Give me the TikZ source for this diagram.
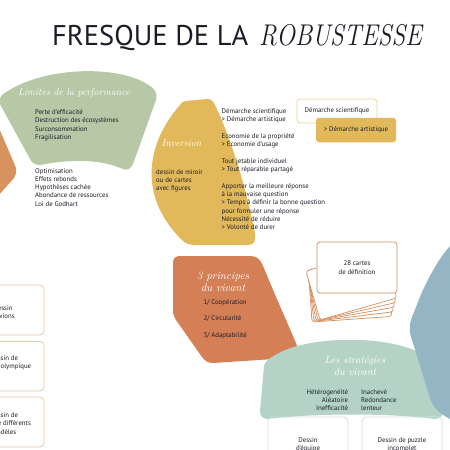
\documentclass[tikz,border=0pt]{standalone}
\usepackage{fontspec}
\setmainfont{PT Sans}
\newfontfamily\hfont{Latin Modern Roman}
\usetikzlibrary{calc}
\definecolor{sage}{HTML}{B6C8A6}
\definecolor{mustard}{HTML}{E2B95A}
\definecolor{terra}{HTML}{D47F56}
\definecolor{apricot}{HTML}{D7925E}
\definecolor{mint}{HTML}{B4D3C6}
\definecolor{steel}{HTML}{93B5C4}
\definecolor{ink}{HTML}{1C1C28}
\definecolor{cardc}{HTML}{D58E5C}
\definecolor{tanline}{HTML}{EBC9A9}
\definecolor{mintline}{HTML}{D2E2DA}
\definecolor{paleyel}{HTML}{ECD49A}
\begin{document}
\begin{tikzpicture}[x=1pt,y=-1pt,
  txt/.style={font=\fontsize{6.8}{8.3}\selectfont, text=ink, inner sep=0pt, align=left},
  head/.style={font=\hfont\itshape\fontsize{9.8}{11.5}\selectfont, text=white, inner sep=0pt, align=center},
  cardbox/.style={draw=cardc, fill=white, line width=0.7pt, rounded corners=3pt},
  sidebox/.style={draw=tanline, line width=0.8pt, rounded corners=4pt},
  botbox/.style={draw=mintline, line width=0.8pt, rounded corners=4pt}]
\useasboundingbox (0,0) rectangle (450,450);
\clip (0,0) rectangle (450,450);
\fill[white] (0,0) rectangle (450,450);

% title
\node[anchor=base west, inner sep=0pt, text=ink, font=\fontsize{28.5}{30}\selectfont] (t1) at (52,45) {FRESQUE DE LA};
\node[anchor=base west, inner sep=0pt, text=ink, font=\hfont\itshape\fontsize{30}{30}\selectfont] (t2) at (259,45) {\scalebox{0.83}[1]{ROBUSTESSE}};

% left orange
\fill[apricot] (-2,126) -- (14,163) .. controls (17,169) and (17,173) .. (14,178) -- (-2,196) -- cycle;

% green limites
\fill[sage] (150,86) .. controls (120,64) and (40,66) .. (2,95)
  .. controls (-1,98) and (-1,103) .. (1,106)
  -- (29,157)
  .. controls (31,162) and (34,165) .. (40,165)
  .. controls (70,159) and (100,159) .. (123,169)
  .. controls (128,171) and (131,168) .. (133,164)
  -- (156,100)
  .. controls (158,94) and (155,89) .. (150,86) -- cycle;

% yellow inversion
\fill[mustard] (186,101) -- (207,99)
 .. controls (211,99) and (213,101) .. (215,105)
 .. controls (232,140) and (248,195) .. (255,234)
 .. controls (256,241) and (254,245) .. (248,245)
 -- (195,245)
 .. controls (188,245) and (184,243) .. (178,236)
 .. controls (140,195) and (145,145) .. (180,105)
 .. controls (182,102) and (184,101) .. (186,101) -- cycle;

% orange 3 principes
\fill[terra] (180,256) -- (250,256)
 .. controls (257,256) and (260,259) .. (263,266)
 .. controls (275,295) and (287,322) .. (296,343)
 .. controls (299,351) and (296,357) .. (289,358)
 -- (213,363)
 .. controls (208,363) and (205,361) .. (202,357)
 -- (176,320)
 .. controls (174,317) and (173,314) .. (173,310)
 -- (173,263)
 .. controls (173,258) and (176,256) .. (180,256) -- cycle;

% strategies
\fill[mint] (272,357) .. controls (305,334) and (395,334) .. (427,357)
 .. controls (431,360) and (433,363) .. (434,367)
 -- (443,408)
 .. controls (444,415) and (441,419) .. (435,419)
 .. controls (390,413) and (315,413) .. (268,419)
 .. controls (263,419) and (260,416) .. (260,411)
 -- (264,366)
 .. controls (265,362) and (268,359) .. (272,357) -- cycle;

% blue
\fill[steel] (452,244) .. controls (440,256) and (430,275) .. (422,292)
 -- (412,317)
 .. controls (409,324) and (409,332) .. (412,340)
 -- (430,398)
 .. controls (433,408) and (440,414) .. (452,420) -- cycle;

% headings
\node[head] (h1) at (74,93) {Limites de la performance};
\node[head] (h2) at (181.5,143) {Inversion};
\node[head, font=\hfont\itshape\fontsize{11}{11.5}\selectfont] (h3) at (223,282) {3 principes\\du vivant};
\node[head, font=\hfont\itshape\fontsize{10.5}{11.5}\selectfont] (h4) at (355,366) {Les stratégies\\du vivant};

% texts
\node[txt, anchor=north west] (l1) at (35,109.5) {Perte d'efficacité\\Destruction des écosystèmes\\Surconsommation\\Fragilisation};
\node[txt, anchor=north west] (l2) at (35,168) {Optimisation\\Effets rebonds\\Hypothèses cachée\\Abondance de ressources\\Loi de Godhart};
\node[txt, anchor=north west, font=\fontsize{6.8}{7.8}\selectfont] (l3) at (156,169.5) {dessin de miroir\\ou de cartes\\avec figures};
\node[txt, anchor=north west] (l4) at (221.5,108.5) {Démarche scientifique\\> Démarche artistique\\[8.3pt]Economie de la propriété\\> Economie d'usage\\[8.3pt]Tout jetable individuel\\> Tout réparable partagé\\[8.3pt]Apporter la meilleure réponse\\à la mauvaise question\\> Temps à définir la bonne question\\pour formuler une réponse\\Nécessité de réduire\\> Volonté de durer};

% demarche boxes
\node[draw=paleyel, fill=white, line width=0.8pt, rounded corners=3pt, minimum width=80pt, minimum height=24pt, font=\fontsize{6.8}{8}\selectfont, text=ink] (b1) at (337,111) {Démarche scientifique};
\node[fill=mustard, rounded corners=3pt, minimum width=80pt, minimum height=24.5pt, font=\fontsize{6.8}{8}\selectfont, text=ink] (b2) at (356,130) {> Démarche artistique};

% principes
\node[txt, anchor=west] (p1) at (203.3,302.3) {1/ Coopération};
\node[txt, anchor=west] (p2) at (203.3,319) {2/ Circularité};
\node[txt, anchor=west] (p3) at (203.3,336) {3/ Adaptabilité};

% strategies texts
\node[txt, anchor=north east, align=right] (s1) at (348.3,389) {Hétérogenéité\\Aléatoire\\Inefficacité};
\node[txt, anchor=north west] (s2) at (361,389) {Inachevé\\Redondance\\lenteur};

% cards
\foreach \i in {0,...,4}{
  \pgfmathsetmacro{\ang}{4+3*\i}
  \pgfmathsetmacro{\px}{312+2*\i}
  \pgfmathsetmacro{\py}{322-0.5*\i}
  \draw[cardbox] (\px,\py) coordinate (c\i) -- ++(-\ang:80) -- ++(-\ang-90:51) -- ++(180-\ang:80) -- cycle;
}
\node[cardbox, minimum width=80pt, minimum height=51pt, align=center, font=\fontsize{6.8}{8.3}\selectfont, text=ink] (card) at (357,267.5) {28 cartes\\de définition};

% left boxes
\draw[sidebox] (-40,285) rectangle (44,335);
\draw[sidebox] (-40,341.5) rectangle (44,391);
\draw[sidebox] (-40,397) rectangle (44,447);
\node[txt, align=center] (lb1) at (3,312) {Dessin\\d'avions};
\node[txt, align=center] (lb2) at (4,362.5) {Dessin de\\podium olympique};
\node[txt, align=center] (lb3) at (4,423.5) {Dessin de\\vélos de différents\\modèles};

% bottom boxes
\draw[botbox] (268,417) rectangle (348,470);
\draw[botbox] (362,417) rectangle (442,470);
\node[txt, align=center, anchor=north] (bb1) at (308,437) {Dessin\\d'équipe};
\node[txt, align=center, anchor=north] (bb2) at (402,437) {Dessin de puzzle\\incomplet};
\end{tikzpicture}
\end{document}
